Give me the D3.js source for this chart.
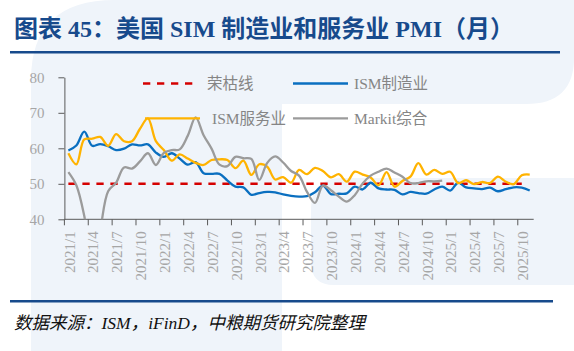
<!doctype html>
<meta charset="utf-8">
<style>
body { margin: 0; background: #fff; }
svg { display: block; }
.serif { font-family: "Liberation Serif", "Noto Sans CJK SC", serif; }
</style>
<body>
<svg id="chart" width="574" height="351"></svg>
<script src="https://cdn.jsdelivr.net/npm/d3@7"></script>
<script>
  // months 2021/1 .. 2025/11
  const months = d3.range(59).map(i => (2021 + Math.floor(i / 12)) + "/" + (i % 12 + 1));
  const tickMonths = ["2021/1","2021/4","2021/7","2021/10","2022/1","2022/4","2022/7","2022/10",
    "2023/1","2023/4","2023/7","2023/10","2024/1","2024/4","2024/7","2024/10",
    "2025/1","2025/4","2025/7","2025/10"];
  const yTicks = [40, 50, 60, 70, 80];

  const ismMfg = [
    59.4, 60.8, 64.7, 60.7, 61.2, 60.6, 59.5, 59.9, 61.1, 60.8, 61.1, 58.8,
    57.6, 58.6, 57.1, 55.4, 56.1, 53.0, 52.8, 52.8, 50.9, 49.2, 49.0, 46.9,
    47.4, 47.7, 47.6, 47.0, 46.6, 46.4, 46.5, 47.6, 49.5, 47.1, 47.2, 47.3,
    49.2, 48.4, 50.3, 48.7, 48.4, 48.3, 47.0, 47.7, 47.4, 47.2, 48.4, 49.2,
    48.1, 50.3, 49.0, 48.7, 48.5, 48.9, 47.9, 48.5, 49.0, 48.9, 48.1
  ];
  const ismSvc = [
    58.6, 55.5, 62.5, 62.7, 63.2, 60.7, 64.0, 62.0, 62.0, 65.5, 68.4, 62.0,
    59.5, 56.5, 58.3, 57.1, 55.9, 55.3, 56.7, 56.9, 56.7, 54.4, 56.5, 52.5,
    55.5, 54.8, 51.2, 51.9, 50.3, 53.9, 52.7, 54.5, 53.6, 51.8, 52.7, 50.6,
    53.4, 52.6, 51.8, 49.6, 53.3, 49.2, 50.8, 52.0, 55.8, 52.6, 53.9, 52.8,
    53.4, 50.2, 51.0, 49.9, 50.5, 50.2, 52.0, 50.6, 49.9, 52.4, 52.6
  ];
  const markit = [
    53.3, 49.6, 40.9, 27.0, 37.0, 47.9, 50.3, 54.6, 54.3, 56.3, 58.6, 55.3,
    58.7, 59.5, 59.7, 63.5, 68.7, 63.7, 59.9, 55.4, 55.0, 57.6, 57.2, 57.0,
    51.1, 55.9, 57.7, 56.0, 53.6, 52.3, 47.7, 44.6, 49.5, 48.2, 46.4, 45.0,
    46.8, 50.1, 52.3, 53.4, 54.3, 53.2, 52.0, 50.2, 50.2, 50.7, 50.7, 50.9
  ];
  const boomBust = 50;
  const boomBustMonths = ["2021/1", "2025/10"];

  const svg = d3.select("#chart");

  // watermark background
  const bg = svg.append("g").attr("fill", "#eff4fa");
  bg.append("path").attr("d", "M31,351 V80 Q31,0 115,0 H574 V58 Q574,104 526,104 H282 V351 Z");
  bg.append("path").attr("d", "M574,178 H342 Q311,178 311,209 V262 Q311,285 334,285 H574 Z");

  // title
  svg.append("text")
    .attr("class", "serif")
    .attr("x", 14).attr("y", 37)
    .attr("fill", "#174a8c")
    .attr("font-size", 24).attr("font-weight", "bold")
    .text("图表 45：美国 SIM 制造业和服务业 PMI（月）");
  svg.append("rect").attr("x", 10).attr("y", 51).attr("width", 550).attr("height", 2.5).attr("fill", "#174a8c");
  svg.append("rect").attr("x", 10).attr("y", 300).attr("width", 543).attr("height", 2.5).attr("fill", "#174a8c");
  svg.append("text")
    .attr("class", "serif")
    .attr("x", 14).attr("y", 329)
    .attr("font-size", 17.5).attr("font-style", "italic")
    .attr("fill", "#111")
    .text("数据来源：ISM，iFinD，中粮期货研究院整理");

  const x = d3.scaleLinear().domain([0, months.length]).range([64.4, 533.7]);
  const y = d3.scaleLinear().domain([40, 80]).range([219.3, 77.3]);
  const px = i => x(i + 0.5);

  svg.append("clipPath").attr("id", "plot")
    .append("rect").attr("x", 64).attr("y", 70).attr("width", 475).attr("height", 149.3);

  // axes
  const axisColor = "#595959", labelColor = "#a6a6a6";
  const yAxis = svg.append("g")
    .attr("transform", "translate(64.4,0)")
    .call(d3.axisLeft(y).tickValues(yTicks).tickSize(6).tickSizeOuter(0).tickPadding(14));
  yAxis.select(".domain").attr("stroke", axisColor);
  yAxis.selectAll(".tick line").attr("stroke", axisColor);
  yAxis.selectAll(".tick text")
    .attr("class", "serif").attr("font-size", 15).attr("fill", labelColor);

  const xAxis = svg.append("g").attr("transform", "translate(0," + y(40) + ")");
  xAxis.append("line").attr("x1", x(0)).attr("x2", x(months.length))
    .attr("stroke", axisColor);
  const tickIdx = tickMonths.map(m => months.indexOf(m));
  xAxis.selectAll(".xt").data(tickIdx).enter().append("line")
    .attr("x1", d => x(d)).attr("x2", d => x(d)).attr("y1", 0).attr("y2", 6)
    .attr("stroke", axisColor);
  xAxis.selectAll(".xl").data(tickIdx).enter().append("text")
    .attr("class", "serif")
    .attr("transform", d => "translate(" + (px(d) + 1) + ",12) rotate(-90)")
    .attr("text-anchor", "end").attr("dy", "0.35em")
    .attr("font-size", 15).attr("fill", labelColor)
    .text(d => months[d]);

  // series
  const plot = svg.append("g").attr("clip-path", "url(#plot)");
  const line = d3.line().x((d, i) => px(i)).y(d => y(d)).curve(d3.curveCatmullRom.alpha(0.5));

  plot.append("line")
    .attr("x1", px(months.indexOf(boomBustMonths[0]))).attr("x2", px(months.indexOf(boomBustMonths[1])))
    .attr("y1", y(boomBust)).attr("y2", y(boomBust))
    .attr("stroke", "#d50000").attr("stroke-width", 2.4).attr("stroke-dasharray", "7.3,6.7");

  const series = [
    { name: "ISM制造业", values: ismMfg, color: "#0a6fc0" },
    { name: "ISM服务业", values: ismSvc, color: "#ffb300" },
    { name: "Markit综合", values: markit, color: "#9b9b9b" }
  ];
  series.forEach(s => {
    plot.append("path").attr("d", line(s.values))
      .attr("fill", "none").attr("stroke", s.color).attr("stroke-width", 2.3)
      .attr("stroke-linejoin", "round");
  });

  // legend
  const legend = [
    { name: "荣枯线", color: "#d50000", dash: "7.3,6.7", x1: 143, x2: 195, y: 83.5 },
    { name: "ISM制造业", color: "#0a6fc0", dash: null, x1: 293, x2: 348, y: 83.5 },
    { name: "ISM服务业", color: "#ffb300", dash: null, x1: 145, x2: 200, y: 118.3 },
    { name: "Markit综合", color: "#9b9b9b", dash: null, x1: 293, x2: 348, y: 118.3 }
  ];
  const lg = svg.append("g");
  legend.forEach(d => {
    lg.append("line").attr("x1", d.x1).attr("x2", d.x2).attr("y1", d.y).attr("y2", d.y)
      .attr("stroke", d.color).attr("stroke-width", d.dash ? 2.4 : 2.3)
      .attr("stroke-dasharray", d.dash);
    lg.append("text").attr("class", "serif")
      .attr("x", d.x2 + (d.x2 < 250 ? 12 : 6)).attr("y", d.y).attr("dy", "0.35em")
      .attr("font-size", 15.5).attr("fill", "#858585")
      .text(d.name);
  });
</script>
</body>
